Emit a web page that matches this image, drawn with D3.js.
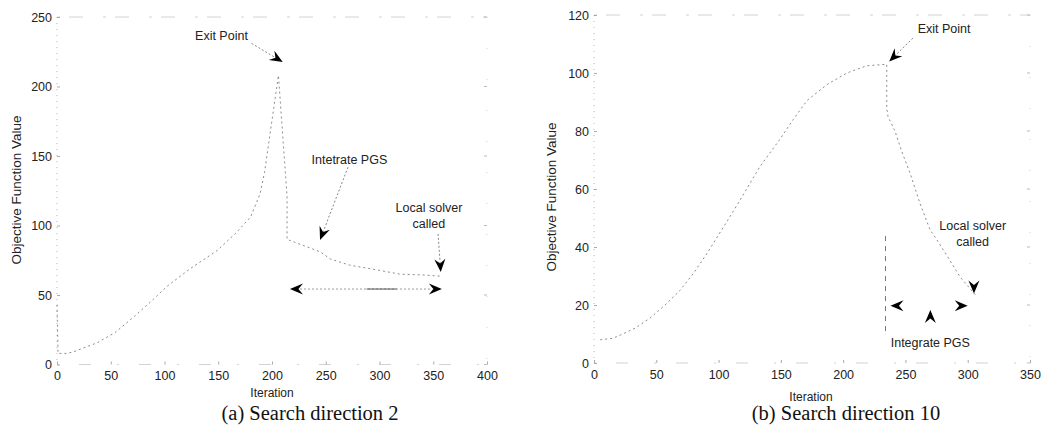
<!DOCTYPE html>
<html><head><meta charset="utf-8">
<script src="https://cdn.jsdelivr.net/npm/d3@7"></script>
<style>
html,body{margin:0;padding:0;background:#fff;}
svg{display:block;}
</style></head>
<body>
<svg id="c" width="1043" height="425"></svg>
<script>
// ---- data ----
const leftIter = [0, 1, 9, 15, 25, 37, 54, 71, 87, 102, 124, 149, 167, 180, 189, 193, 206, 214, 214, 221, 245, 254, 272, 298, 319, 338, 358];
const leftVal  = [43, 8, 8, 9, 12, 15.5, 23, 34, 45, 56, 69, 82, 95, 106, 123, 138, 208, 121, 90, 88, 81, 76, 71.5, 68, 65, 64.5, 63.5];
const rightIter = [5, 15, 21, 33, 45, 57, 69, 80, 91, 107, 117, 133, 149, 160, 171, 187, 203, 219, 235, 235, 236, 241.6, 247, 253.7, 261.7, 269.7, 276, 283.4, 293.8, 307.5];
const rightVal  = [8, 8.5, 9.6, 12, 15.5, 20, 25, 31, 38, 49, 56, 67.6, 77, 84, 90.5, 96, 100, 102.5, 103, 88, 85, 80, 73, 65.5, 55, 46, 42, 37, 29.7, 22.8];
const leftXTicks = [0, 50, 100, 150, 200, 250, 300, 350, 400];
const leftYTicks = [0, 50, 100, 150, 200, 250];
const rightXTicks = [0, 50, 100, 150, 200, 250, 300, 350];
const rightYTicks = [0, 20, 40, 60, 80, 100, 120];
const pgsMarkerIter = [234, 234];
const pgsMarkerVal = [11, 44];

const svg = d3.select("#c");
const sansFont = "'Liberation Sans', Arial, Helvetica, sans-serif";
const serifFont = "'Liberation Serif', 'Times New Roman', serif";
const curveColor = "#8c8c8c";

function arrowHead(g, tx, ty, angle, L = 13, W = 5.5, notch = 4.5) {
  const dx = Math.cos(angle), dy = Math.sin(angle);
  const nx = -dy, ny = dx;
  const pts = [
    [tx, ty],
    [tx - L * dx + W * nx, ty - L * dy + W * ny],
    [tx - (L - notch) * dx, ty - (L - notch) * dy],
    [tx - L * dx - W * nx, ty - L * dy - W * ny]
  ];
  g.append("path").attr("d", "M" + pts.map(p => p.join(",")).join("L") + "Z").attr("fill", "#000");
}

function panel(cfg) {
  const g = svg.append("g");
  const x = d3.scaleLinear().domain(cfg.xDomain).range([cfg.left, cfg.right]);
  const y = d3.scaleLinear().domain(cfg.yDomain).range([cfg.bottom, cfg.top]);

  // frame (faded scan look)
  const frame = g.append("g").attr("stroke", "#d2d2d2").attr("fill", "none").attr("stroke-width", 1);
  frame.append("line").attr("x1", cfg.left).attr("x2", cfg.right).attr("y1", cfg.top).attr("y2", cfg.top).attr("stroke-dasharray", "3,9,14,20");
  frame.append("line").attr("x1", cfg.right).attr("x2", cfg.right).attr("y1", cfg.top).attr("y2", cfg.bottom).attr("stroke-dasharray", "1,30");
  frame.append("line").attr("x1", cfg.left).attr("x2", cfg.left).attr("y1", cfg.top).attr("y2", cfg.bottom).attr("stroke", "#b4b4b4").attr("stroke-dasharray", "1,5");
  frame.append("line").attr("x1", cfg.left).attr("x2", cfg.right).attr("y1", cfg.bottom).attr("y2", cfg.bottom).attr("stroke-dasharray", "2,20,12,26");

  // axes
  const xAxis = g.append("g").attr("transform", `translate(0,${cfg.bottom})`)
    .call(d3.axisBottom(x).tickValues(cfg.xTicks).tickSize(-3).tickPadding(7).tickFormat(d3.format("d")));
  const yAxis = g.append("g").attr("transform", `translate(${cfg.left},0)`)
    .call(d3.axisLeft(y).tickValues(cfg.yTicks).tickSize(-3).tickPadding(5).tickFormat(d3.format("d")));
  [xAxis, yAxis].forEach(a => {
    a.select(".domain").remove();
    a.selectAll(".tick line").attr("stroke", "#aaa");
    a.selectAll(".tick text").attr("font-family", sansFont).attr("font-size", 12.5).attr("fill", "#222");
  });
  // right side ticks
  g.append("g").selectAll("line").data(cfg.yTicks).join("line")
    .attr("x1", cfg.right - 3).attr("x2", cfg.right).attr("y1", d => y(d)).attr("y2", d => y(d)).attr("stroke", "#bbb");

  // labels
  g.append("text").attr("x", cfg.xLabelX).attr("y", cfg.bottom + cfg.xLabelDy).attr("text-anchor", "middle")
    .attr("font-family", sansFont).attr("font-size", 12).attr("fill", "#222").text("Iteration");
  g.append("text").attr("transform", `translate(${cfg.yLabelX},${cfg.yLabelY}) rotate(-90)`).attr("text-anchor", "middle")
    .attr("font-family", sansFont).attr("font-size", 13.5).attr("fill", "#222").text("Objective Function Value");
  g.append("text").attr("x", cfg.captionX).attr("y", 420).attr("text-anchor", "middle")
    .attr("font-family", serifFont).attr("font-size", 20.5).attr("fill", "#111").text(cfg.caption);

  // curve
  const pts = cfg.iters.map((d, i) => [d, cfg.vals[i]]);
  g.append("path").datum(pts)
    .attr("d", d3.line().x(d => x(d[0])).y(d => y(d[1])))
    .attr("fill", "none").attr("stroke", curveColor).attr("stroke-width", 1).attr("stroke-dasharray", "2,3");

  return { g, x, y };
}

function annText(g, px, py, lines) {
  const t = g.append("text").attr("text-anchor", "middle").attr("font-family", sansFont).attr("font-size", 12.5).attr("fill", "#222");
  lines.forEach((s, i) => t.append("tspan").attr("x", px).attr("y", py + i * 16).text(s));
}

function annArrow(g, x, y, from, to, dash) {
  const x1 = x(from[0]), y1 = y(from[1]), x2 = x(to[0]), y2 = y(to[1]);
  const ang = Math.atan2(y2 - y1, x2 - x1);
  g.append("line").attr("x1", x1).attr("y1", y1).attr("x2", x2 - 8 * Math.cos(ang)).attr("y2", y2 - 8 * Math.sin(ang))
    .attr("stroke", "#888").attr("stroke-width", 1).attr("stroke-dasharray", dash || "2,2");
  arrowHead(g, x2, y2, ang);
}

// ---- left panel ----
const L = panel({
  xDomain: [0, 400], yDomain: [0, 250], left: 57, right: 487, top: 17, bottom: 364.5,
  xTicks: leftXTicks, yTicks: leftYTicks, iters: leftIter, vals: leftVal,
  xLabelX: 272, xLabelDy: 32, yLabelX: 21, yLabelY: 190, captionX: 310, caption: "(a) Search direction 2"
});
annText(L.g, L.x(153), L.y(233.5), ["Exit Point"]);
annArrow(L.g, L.x, L.y, [181, 231], [210, 217.6]);
annText(L.g, L.x(272), L.y(144), ["Intetrate PGS"]);
annArrow(L.g, L.x, L.y, [270.7, 142], [244.7, 89.6]);
annText(L.g, L.x(346), L.y(110), ["Local solver", "called"]);
annArrow(L.g, L.x, L.y, [354.5, 94], [357, 66.5]);
// double-headed horizontal arrow
{
  const yy = L.y(54.3), xa = L.x(216.7), xb = L.x(358);
  L.g.append("line").attr("x1", xa + 10).attr("x2", xb - 10).attr("y1", yy).attr("y2", yy)
    .attr("stroke", "#999").attr("stroke-dasharray", "2,2");
  L.g.append("line").attr("x1", L.x(288)).attr("x2", L.x(316)).attr("y1", yy).attr("y2", yy).attr("stroke", "#555");
  arrowHead(L.g, xa, yy, Math.PI);
  arrowHead(L.g, xb, yy, 0);
}

// ---- right panel ----
const R = panel({
  xDomain: [0, 350], yDomain: [0, 120], left: 594, right: 1030, top: 15, bottom: 363,
  xTicks: rightXTicks, yTicks: rightYTicks, iters: rightIter, vals: rightVal,
  xLabelX: 811, xLabelDy: 38, yLabelX: 556, yLabelY: 197, captionX: 846, caption: "(b) Search direction 10"
});
annText(R.g, R.x(281), R.y(113.8), ["Exit Point"]);
annArrow(R.g, R.x, R.y, [256, 112], [237, 104]);
annText(R.g, R.x(304), R.y(46), ["Local solver", "called"]);
arrowHead(R.g, R.x(305), R.y(24), Math.PI / 2);
// PGS marker line
R.g.append("line").attr("x1", R.x(pgsMarkerIter[0])).attr("x2", R.x(pgsMarkerIter[1]))
  .attr("y1", R.y(pgsMarkerVal[0])).attr("y2", R.y(pgsMarkerVal[1]))
  .attr("stroke", "#777").attr("stroke-dasharray", "5,5");
arrowHead(R.g, R.x(238), R.y(19.7), Math.PI);
arrowHead(R.g, R.x(300), R.y(19.7), 0);
arrowHead(R.g, R.x(270), R.y(18.3), -Math.PI / 2);
annText(R.g, R.x(270), R.y(5.5), ["Integrate PGS"]);
</script>
</body></html>
